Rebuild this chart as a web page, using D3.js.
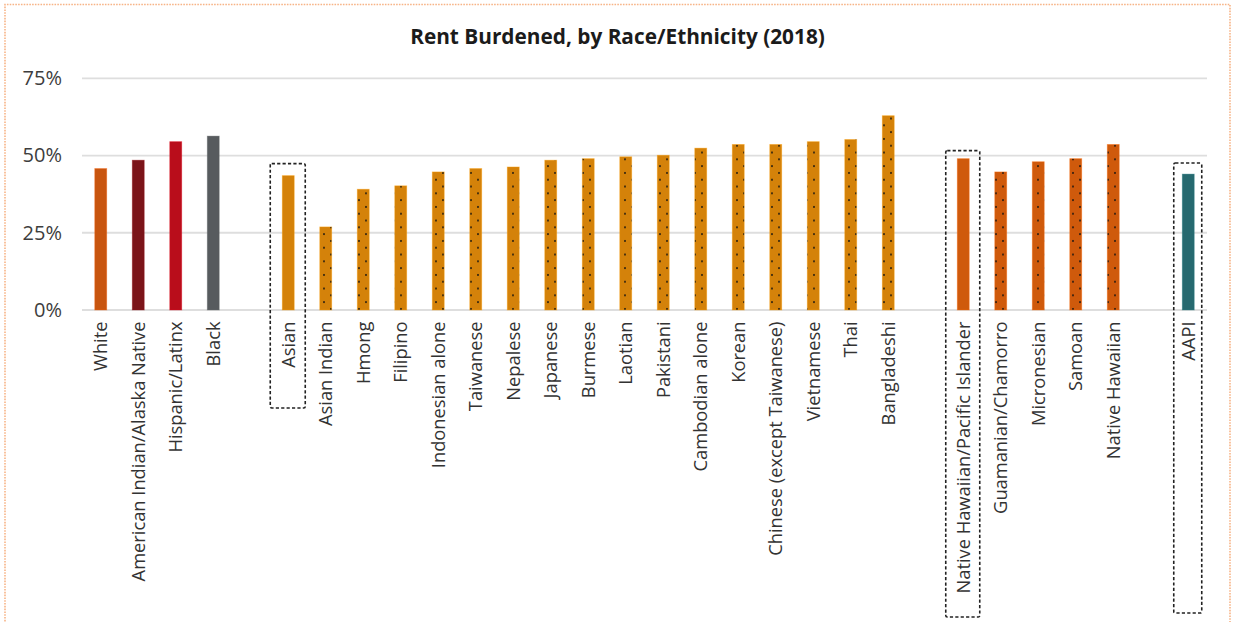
<!DOCTYPE html>
<html>
<head>
<meta charset="utf-8">
<script src="https://cdn.jsdelivr.net/npm/d3@7"></script>
<style>
  html, body { margin: 0; padding: 0; background: #ffffff; }
  svg { display: block; font-family: "Open Sans", "Liberation Sans", sans-serif; }
</style>
</head>
<body>
<svg id="chart" width="1233" height="622"></svg>
<script>
// Share of renter households that are rent burdened, 2018 (percent)
const raceCategories = ["White", "American Indian/Alaska Native", "Hispanic/Latinx", "Black"];
const raceValues = [45.8, 48.5, 54.5, 56.3];

const asianCategories = ["Asian", "Asian Indian", "Hmong", "Filipino", "Indonesian alone", "Taiwanese",
  "Nepalese", "Japanese", "Burmese", "Laotian", "Pakistani", "Cambodian alone", "Korean",
  "Chinese (except Taiwanese)", "Vietnamese", "Thai", "Bangladeshi"];
const asianValues = [43.5, 26.9, 39.1, 40.2, 44.7, 45.8, 46.3, 48.5, 49.0, 49.6, 50.1, 52.4, 53.6,
  53.6, 54.5, 55.2, 62.9];

const nhpiCategories = ["Native Hawaiian/Pacific Islander", "Guamanian/Chamorro", "Micronesian",
  "Samoan", "Native Hawaiian"];
const nhpiValues = [49.0, 44.7, 48.0, 49.0, 53.6];

const aapiCategories = ["AAPI"];
const aapiValues = [44.0];

const yTicks = [0, 25, 50, 75];
const highlighted = ["Asian", "Native Hawaiian/Pacific Islander", "AAPI"];

const title = "Rent Burdened, by Race/Ethnicity (2018)";

// Colours for the single race bars and each group
const raceColors = ["#c8550f", "#7b1419", "#b90d1b", "#575b5e"];
const asianColor = "#d4820a";
const nhpiColor = "#cf5a0c";
const aapiColor = "#26696f";

// Build the row list: aggregate bars are solid, detailed subgroups are dotted
const rows = [];
raceCategories.forEach((c, i) => rows.push({ key: c, label: c, value: raceValues[i], color: raceColors[i], dotted: false }));
rows.push({ key: "gap-1", label: "", value: null });
asianCategories.forEach((c, i) => rows.push({ key: c, label: c, value: asianValues[i], color: asianColor, dotted: i > 0 }));
rows.push({ key: "gap-2", label: "", value: null });
nhpiCategories.forEach((c, i) => rows.push({ key: c, label: c, value: nhpiValues[i], color: nhpiColor, dotted: i > 0 }));
rows.push({ key: "gap-3", label: "", value: null });
aapiCategories.forEach((c, i) => rows.push({ key: c, label: c, value: aapiValues[i], color: aapiColor, dotted: false }));

const svg = d3.select("#chart");
const W = 1233, H = 622;
const plot = { left: 82, right: 1207, top: 78.3, bottom: 310 };

// Page frame (dotted orange)
svg.append("path")
  .attr("d", `M5,${H + 5} V4.5 H1230 V${H + 5}`)
  .attr("fill", "none")
  .attr("stroke", "#f7b487")
  .attr("stroke-width", 1.6)
  .attr("stroke-dasharray", "1.6,1.2");

const x = d3.scaleBand()
  .domain(rows.map(d => d.key))
  .range([plot.left, plot.right])
  .paddingInner(0.68)
  .paddingOuter(0.34);

const y = d3.scaleLinear()
  .domain([0, 75])
  .range([plot.bottom, plot.top]);

// Dot fill for subgroup bars
const defs = svg.append("defs");
[["dots-asian", asianColor], ["dots-nhpi", nhpiColor]].forEach(([id, col]) => {
  const p = defs.append("pattern")
    .attr("id", id)
    .attr("patternUnits", "userSpaceOnUse")
    .attr("width", 14)
    .attr("height", 13.6);
  p.append("rect").attr("width", 14).attr("height", 13.6).attr("fill", col);
  p.append("circle").attr("cx", 2).attr("cy", 3).attr("r", 0.95).attr("fill", "#111");
  p.append("circle").attr("cx", 9).attr("cy", 9.8).attr("r", 0.95).attr("fill", "#111");
});

// Gridlines
svg.append("g")
  .selectAll("line")
  .data(yTicks)
  .join("line")
  .attr("x1", plot.left)
  .attr("x2", plot.right)
  .attr("y1", d => y(d))
  .attr("y2", d => y(d))
  .attr("stroke", "#dedede")
  .attr("stroke-width", 1.8);

// Y axis labels
const yAxis = svg.append("g")
  .attr("transform", `translate(${plot.left - 20},0)`)
  .call(d3.axisLeft(y).tickValues(yTicks).tickFormat(d => d + "%").tickSize(0).tickPadding(0));
yAxis.select(".domain").remove();
yAxis.selectAll("text")
  .attr("font-size", 20)
  .attr("fill", "#3d3d3d")
  .attr("font-family", "Open Sans, sans-serif");

// Bars
const bars = rows.filter(d => d.value !== null);
svg.append("g")
  .selectAll("rect")
  .data(bars)
  .join("rect")
  .attr("x", d => x(d.key))
  .attr("width", x.bandwidth())
  .attr("y", d => y(d.value))
  .attr("height", d => y(0) - y(d.value))
  .attr("fill", d => d.dotted ? (d.color === asianColor ? "url(#dots-asian)" : "url(#dots-nhpi)") : d.color)
  .attr("stroke", d => d3.color(d.color).brighter(0.6))
  .attr("stroke-opacity", 0.45)
  .attr("stroke-width", 0.8);

// Category labels
const xAxis = svg.append("g")
  .attr("transform", `translate(0,${plot.bottom})`)
  .call(d3.axisBottom(x).tickSize(0).tickPadding(0).tickFormat(k => rows.find(r => r.key === k).label));
xAxis.select(".domain").remove();
xAxis.selectAll("text")
  .attr("transform", "rotate(-90)")
  .attr("text-anchor", "end")
  .attr("x", -11.5)
  .attr("y", 0)
  .attr("dy", "0.36em")
  .attr("font-size", 18.3)
  .attr("fill", "#333333")
  .attr("font-family", "Open Sans, sans-serif");

// Dashed boxes around aggregate categories
const boxLayout = {
  "Asian": { width: 35, pad: 12, bottom: 408 },
  "Native Hawaiian/Pacific Islander": { width: 34, pad: 8, bottom: 617 },
  "AAPI": { width: 28, pad: 11, bottom: 613 }
};
svg.append("g")
  .selectAll("rect")
  .data(highlighted)
  .join("rect")
  .attr("x", k => x(k) + x.bandwidth() / 2 - boxLayout[k].width / 2 - 0.5)
  .attr("y", k => y(rows.find(r => r.key === k).value) - boxLayout[k].pad)
  .attr("width", k => boxLayout[k].width)
  .attr("height", k => boxLayout[k].bottom - (y(rows.find(r => r.key === k).value) - boxLayout[k].pad))
  .attr("fill", "none")
  .attr("stroke", "#222")
  .attr("stroke-width", 1.6)
  .attr("stroke-dasharray", "3.2,2.2")
  .attr("rx", 1.5);

// Title
svg.append("text")
  .attr("x", 617.5)
  .attr("y", 44)
  .attr("text-anchor", "middle")
  .attr("font-size", 20.8)
  .attr("font-weight", 700)
  .attr("fill", "#1b1b1b")
  .text(title);
</script>
</body>
</html>
